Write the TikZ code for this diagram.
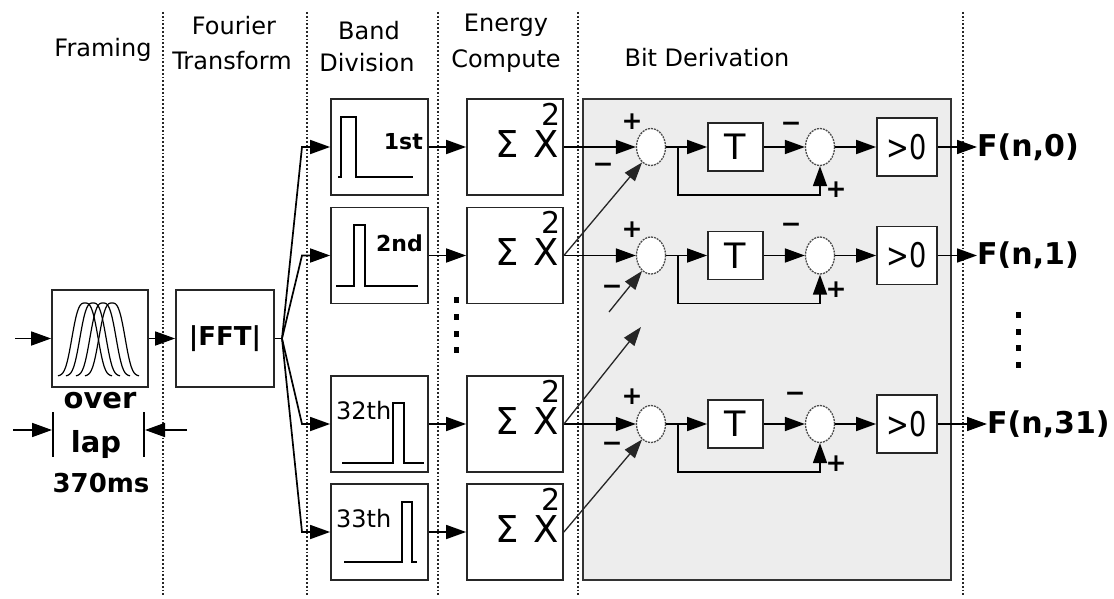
\documentclass[tikz,border=0pt]{standalone}
\usepackage{fontspec}
\usepackage{graphicx}
\setmainfont{DejaVu Sans}
\usetikzlibrary{arrows.meta,shapes.geometric}
\newcommand{\fsz}[1]{\fontsize{#1}{#1}\selectfont}
\begin{document}
\begin{tikzpicture}[x=1pt,y=-1pt,
  blk/.style={draw=black!85,line width=1.8pt,fill=white,inner sep=0},
  arr/.style={-{Triangle[length=20pt,width=14pt]},line width=1.7pt},
  diag/.style={-{Triangle[length=19pt,width=13pt]},line width=1.3pt,black!85},
  sep/.style={line width=1.5pt,dash pattern=on 1.8pt off 2pt,black!85},
  sumc/.style={ellipse,draw=black!70,line width=1.3pt,dash pattern=on 2pt off 1pt,fill=white,minimum width=29pt,minimum height=37pt,inner sep=0},
  hdr/.style={anchor=base,inner sep=0,font={\fsz{24}}},
  sgn/.style={inner sep=0,font={\fsz{25}\bfseries}},
  dotm/.style={fill=black}]
\useasboundingbox (0,0) rectangle (1114,599);
% shaded bit-derivation region
\draw[draw=black!80,line width=1.6pt,fill=black!7] (583,99) rectangle (951,580);
% separators
\foreach \sx in {163,307,438,578,963} \draw[sep] (\sx,12) -- (\sx,597);
% headers
\node[hdr] (hFr) at (103,57) {Framing};
\node[hdr] (hFo) at (234,35) {Fourier};
\node[hdr] (hTr) at (232,70) {Transform};
\node[hdr] (hBa) at (369,40) {Band};
\node[hdr] (hDi) at (367,72) {Division};
\node[hdr] (hEn) at (506,32) {Energy};
\node[hdr] (hCo) at (506,68) {Compute};
\node[hdr] (hBi) at (707,67) {Bit Derivation};
% framing
\node[blk,minimum width=96pt,minimum height=97pt] (frm) at (100,338.5) {};
\foreach \c in {85,93,103,112}
  \draw[line width=1.2pt] plot[domain=-27:27,samples=45,smooth] ({\c+\x},{376-73*exp(-((abs(\x)/12)^3)/2)});
\coordinate (in0) at (15,338.5);
\draw[arr] (in0) -- (frm.west);
\node[blk,minimum width=98pt,minimum height=97pt,font={\fsz{26}\bfseries}] (fft) at (225,338.5) {|FFT|};
\draw[arr] (frm.east) -- (fft.west);
\coordinate (fj) at (282,338.5);
\draw[line width=1.7pt] (fft.east) -- (fj);
% overlap annotation
\node[font={\fsz{29}\bfseries},inner sep=0] (ov) at (100,401) {over};
\node[font={\fsz{29}\bfseries},inner sep=0] (lp) at (96,444) {lap};
\node[font={\fsz{26}\bfseries},inner sep=0] (ms) at (101,483) {370ms};
\coordinate (bl0) at (53,412); \coordinate (bl1) at (53,457);
\coordinate (br0) at (144,412); \coordinate (br1) at (144,457);
\draw[line width=1.7pt] (bl0) -- (bl1);
\draw[line width=1.7pt] (br0) -- (br1);
\coordinate (dl0) at (13,430); \coordinate (dl1) at (52,430);
\coordinate (dr0) at (187,430); \coordinate (dr1) at (145,430);
\draw[arr] (dl0) -- (dl1);
\draw[arr] (dr0) -- (dr1);
% band and energy boxes
\foreach \i/\yy in {1/147,2/255.5,32/424,33/532} {
  \node[blk,minimum width=97pt,minimum height=96pt] (b\i) at (379.5,\yy) {};
  \node[blk,minimum width=96pt,minimum height=96pt] (e\i) at (515,\yy) {};
  \coordinate (f\i) at (302,\yy);
  \draw[arr] (fj) -- (f\i) -- (b\i.west);
  \draw[arr] (b\i.east) -- (e\i.west);
  \node[font={\fsz{37}},inner sep=0] (sg\i) at ([shift={(-8,-3)}]e\i.center) {Σ};
  \node[font={\fsz{37}},inner sep=0] (x\i) at ([shift={(31,-3)}]e\i.center) {X};
  \node[font={\fsz{30}},inner sep=0] (sq\i) at ([shift={(36,-33)}]e\i.center) {2};
}
% band shapes
\draw[line width=1.6pt] (338,177) -- (341,177) -- (341,117) -- (356,117) -- (356,177) -- (413,177);
\draw[line width=1.6pt] (336,286) -- (354,286) -- (354,225) -- (365,225) -- (365,286) -- (418,286);
\draw[line width=1.6pt] (342,463) -- (393,463) -- (393,403) -- (404,403) -- (404,463) -- (424,463);
\draw[line width=1.6pt] (344,562) -- (402,562) -- (402,502) -- (412,502) -- (412,562) -- (417,562);
\node[anchor=east,inner sep=0,font={\fsz{22}\bfseries}] (l1) at (423,142) {1st};
\node[anchor=east,inner sep=0,font={\fsz{22}\bfseries}] (l2) at (423,243) {2nd};
\node[anchor=west,inner sep=0,font={\fsz{24}}] (l32) at (336,411) {32th};
\node[anchor=west,inner sep=0,font={\fsz{24}}] (l33) at (336,519) {33th};
% vertical dots
\foreach \yy in {300,317,334,350} \fill[dotm] (453.5,{\yy-3}) rectangle +(5,6);
\foreach \yy in {315,332,348,365} \fill[dotm] (1015.5,{\yy-3}) rectangle +(5,6);
% bit derivation rows
\foreach \r/\yy/\lab/\ox in {1/147/{F(n,0)}/977,2/255.5/{F(n,1)}/977,3/424/{F(n,31)}/987} {
  \node[sumc] (sa\r) at (651,\yy) {};
  \node[blk,minimum width=55pt,minimum height=48pt,font={\fsz{35}}] (T\r) at (735.5,\yy) {T};
  \node[sumc] (sb\r) at (820,\yy) {};
  \node[blk,minimum width=60pt,minimum height=58pt] (g\r) at (907,\yy) {\scalebox{0.8}[1]{\fsz{34}>0}};
  \node[anchor=west,inner sep=0,font={\fsz{30}\bfseries}] (o\r) at (\ox,\yy) {\lab};
  \coordinate (br\r) at (678,\yy);
  \draw[arr] (sa\r.east) -- (T\r.west);
  \draw[arr] (br\r) -- ++(0,48) -| (sb\r.south);
  \draw[arr] (T\r.east) -- (sb\r.west);
  \draw[arr] (sb\r.east) -- (g\r.west);
  \draw[arr] (g\r.east) -- (o\r.west);
}
% inputs to first summers
\draw[arr] (e1.east) -- (sa1.west);
\draw[arr] (e2.east) -- (sa2.west);
\draw[arr] (e32.east) -- (sa3.west);
\draw[diag] (e2.east) -- (sa1.240);
\coordinate (d2) at (609,312);
\draw[diag] (d2) -- (sa2.240);
\coordinate (d3) at (641,327);
\draw[diag] (e32.east) -- (d3);
\draw[diag] (e33.east) -- (sa3.240);
% signs
\node[sgn] (p1a) at (632,122) {+};
\node[sgn] (m1a) at (603,168) {−};
\node[sgn] (m1b) at (791,127) {−};
\node[sgn] (p1b) at (836,190) {+};
\node[sgn] (p2a) at (632,230) {+};
\node[sgn] (m2a) at (612,290) {−};
\node[sgn] (m2b) at (791,228) {−};
\node[sgn] (p2b) at (836,290) {+};
\node[sgn] (p3a) at (632,397) {+};
\node[sgn] (m3a) at (612,447) {−};
\node[sgn] (m3b) at (795,397) {−};
\node[sgn] (p3b) at (836,464) {+};
\end{tikzpicture}
\end{document}
